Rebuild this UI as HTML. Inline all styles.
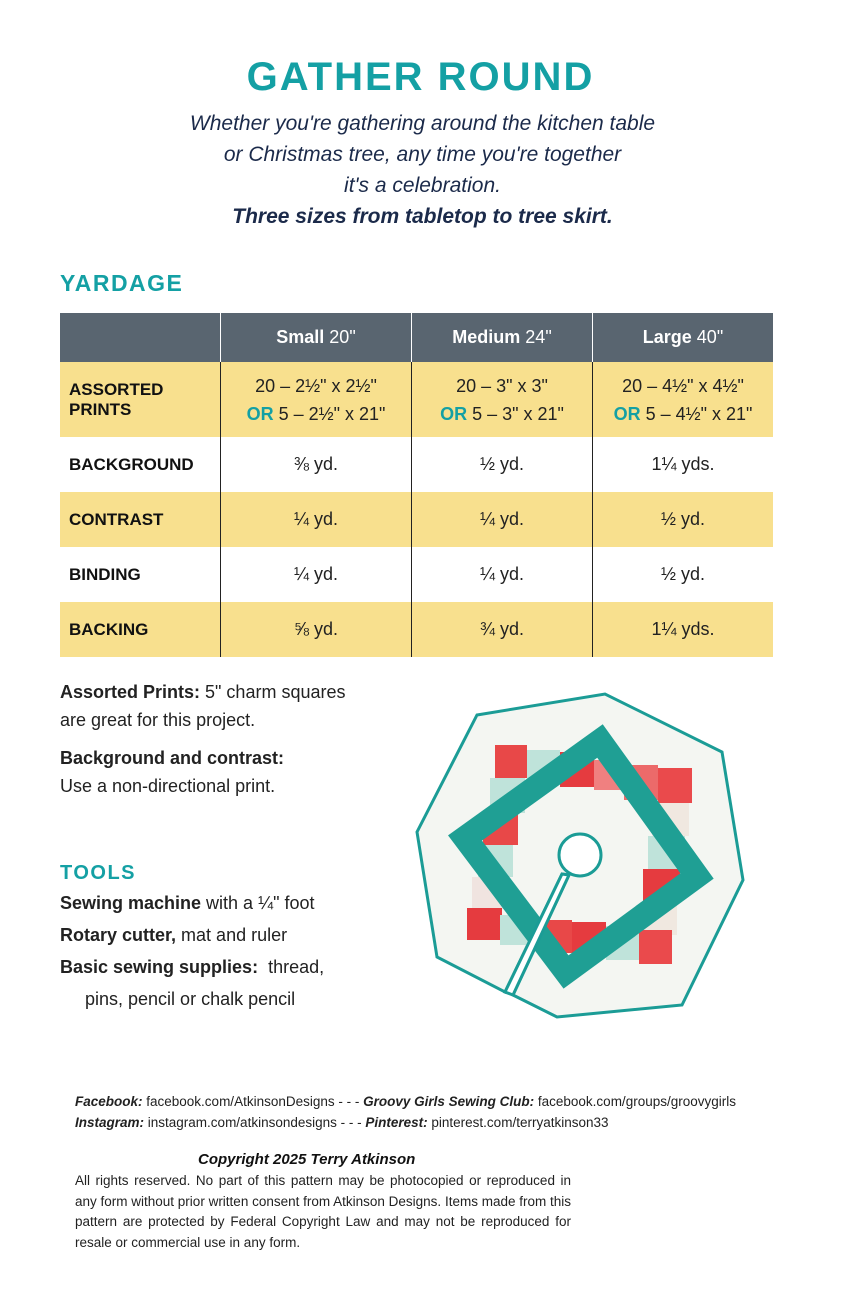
<!DOCTYPE html>
<html><head><meta charset="utf-8"><style>
body{margin:0;width:841px;height:1300px;background:#fff;position:relative;font-family:"Liberation Sans",sans-serif;overflow:hidden}
.a{position:absolute}
h1{position:absolute;top:55px;left:0;width:841px;text-align:center;margin:0;font-size:40px;letter-spacing:2px;color:#14a0a4;font-weight:900}
.sub{top:108px;left:0;width:845px;text-align:center;font-style:italic;font-size:21px;color:#1b2a4a;line-height:31px}
.teal{color:#14a0a4;font-weight:bold}
table{position:absolute;left:60px;top:313px;border-collapse:collapse;width:713px;table-layout:fixed}
td{font-size:18px;color:#222;text-align:center;padding:0}
td+td{border-left:1.5px solid #222}
th{background:#596570;color:#fff;height:47px;font-size:18px}
th+th{border-left:1.5px solid #fff}
th span{font-weight:normal}
tr.y td{background:#f8e08e}
td.l{text-align:left;padding-left:9px;font-weight:bold;font-size:17px;color:#111}
.t{font-size:18px;color:#222;line-height:28px}
.ft{font-size:13.5px;color:#222}
</style></head><body>
<h1>GATHER ROUND</h1>
<div class="a sub">Whether you're gathering around the kitchen table<br>or Christmas tree, any time you're together<br>it's a celebration.<br><b>Three sizes from tabletop to tree skirt.</b></div>
<div class="a teal" style="left:60px;top:270px;font-size:23px;letter-spacing:1.5px">YARDAGE</div>
<table>
<tr><th style="width:158px"></th><th style="width:188px">Small <span>20"</span></th><th style="width:178px">Medium <span>24"</span></th><th>Large <span>40"</span></th></tr>
<tr class="y" style="height:75px"><td class="l">ASSORTED<br>PRINTS</td><td style="line-height:28px">20 – 2½" x 2½"<br><b class="teal">OR</b> 5 – 2½" x 21"</td><td style="line-height:28px">20 – 3" x 3"<br><b class="teal">OR</b> 5 – 3" x 21"</td><td style="line-height:28px">20 – 4½" x 4½"<br><b class="teal">OR</b> 5 – 4½" x 21"</td></tr>
<tr style="height:55px"><td class="l">BACKGROUND</td><td>⅜ yd.</td><td>½ yd.</td><td>1¼ yds.</td></tr>
<tr class="y" style="height:55px"><td class="l">CONTRAST</td><td>¼ yd.</td><td>¼ yd.</td><td>½ yd.</td></tr>
<tr style="height:55px"><td class="l">BINDING</td><td>¼ yd.</td><td>¼ yd.</td><td>½ yd.</td></tr>
<tr class="y" style="height:55px"><td class="l">BACKING</td><td>⅝ yd.</td><td>¾ yd.</td><td>1¼ yds.</td></tr>
</table>
<div class="a t" style="left:60px;top:678px"><b>Assorted Prints:</b> 5" charm squares<br>are great for this project.</div>
<div class="a t" style="left:60px;top:744px"><b>Background and contrast:</b><br>Use a non-directional print.</div>
<div class="a teal" style="left:60px;top:862px;font-size:20px;letter-spacing:1.5px">TOOLS</div>
<div class="a t" style="left:60px;top:887px;line-height:32px"><b>Sewing machine</b> with a ¼" foot<br><b>Rotary cutter,</b> mat and ruler<br><b>Basic sewing supplies:</b>&nbsp; thread,<br>&nbsp;&nbsp;&nbsp;&nbsp;&nbsp;pins, pencil or chalk pencil</div>
<svg class="a" style="left:0;top:0" width="841" height="1300">
<polygon points="477,715 605,694 722,752 743,880 682,1005 557,1017 513,995 569,875 562,874 505,992 437,957 417,832" fill="#f4f6f2" stroke="#1b9c96" stroke-width="3"/>
<g>
<!-- top row -->
<rect x="495" y="745" width="32" height="33" fill="#e84848"/>
<rect x="527" y="750" width="33" height="30" fill="#bfe3da"/>
<rect x="560" y="752" width="34" height="35" fill="#e53b3f"/>
<rect x="594" y="760" width="30" height="30" fill="#f08080"/>
<rect x="624" y="765" width="34" height="35" fill="#ec6a6a"/>
<rect x="658" y="768" width="34" height="35" fill="#ea4a4c"/>
<!-- right col -->
<rect x="652" y="803" width="37" height="33" fill="#f0e8e0"/>
<rect x="648" y="836" width="37" height="33" fill="#bfe3da"/>
<rect x="643" y="869" width="37" height="33" fill="#e53b3f"/>
<rect x="640" y="902" width="37" height="33" fill="#f0e8e0"/>
<!-- left col -->
<rect x="490" y="778" width="35" height="35" fill="#bfe3da"/>
<rect x="483" y="813" width="35" height="32" fill="#e84848"/>
<rect x="478" y="845" width="35" height="32" fill="#bfe3da"/>
<rect x="472" y="877" width="35" height="32" fill="#f0e4e0"/>
<rect x="467" y="908" width="35" height="32" fill="#e53b3f"/>
<rect x="500" y="915" width="30" height="30" fill="#bfe3da"/>
<!-- bottom row -->
<rect x="540" y="920" width="32" height="33" fill="#e84848"/>
<rect x="572" y="922" width="34" height="35" fill="#e53b3f"/>
<rect x="606" y="926" width="33" height="34" fill="#bfe3da"/>
<rect x="639" y="930" width="33" height="34" fill="#ea4a4c"/>
</g>
<polygon points="600,741 697,876 566,972 465,838" fill="none" stroke="#1f9f94" stroke-width="24" stroke-linejoin="miter"/>
<circle cx="580" cy="855" r="21" fill="#fff" stroke="#1b9c96" stroke-width="3"/>
<polygon points="513,995 569,875 562,874 505,992" fill="#fff" stroke="#1b9c96" stroke-width="3"/>
</svg>
<div class="a ft" style="left:75px;top:1091px;line-height:21px"><b><i>Facebook:</i></b> facebook.com/AtkinsonDesigns - - - <b><i>Groovy Girls Sewing Club:</i></b> facebook.com/groups/groovygirls<br><b><i>Instagram:</i></b> instagram.com/atkinsondesigns - - - <b><i>Pinterest:</i></b> pinterest.com/terryatkinson33</div>
<div class="a" style="left:198px;top:1151px;font-size:15px;font-weight:bold;font-style:italic;color:#111">Copyright 2025 Terry Atkinson</div>
<div class="a ft" style="left:75px;top:1171px;width:496px;line-height:20.5px;text-align:justify">All rights reserved. No part of this pattern may be photocopied or reproduced in any form without prior written consent from Atkinson Designs. Items made from this pattern are protected by Federal Copyright Law and may not be reproduced for resale or commercial use in any form.</div>
</body></html>
